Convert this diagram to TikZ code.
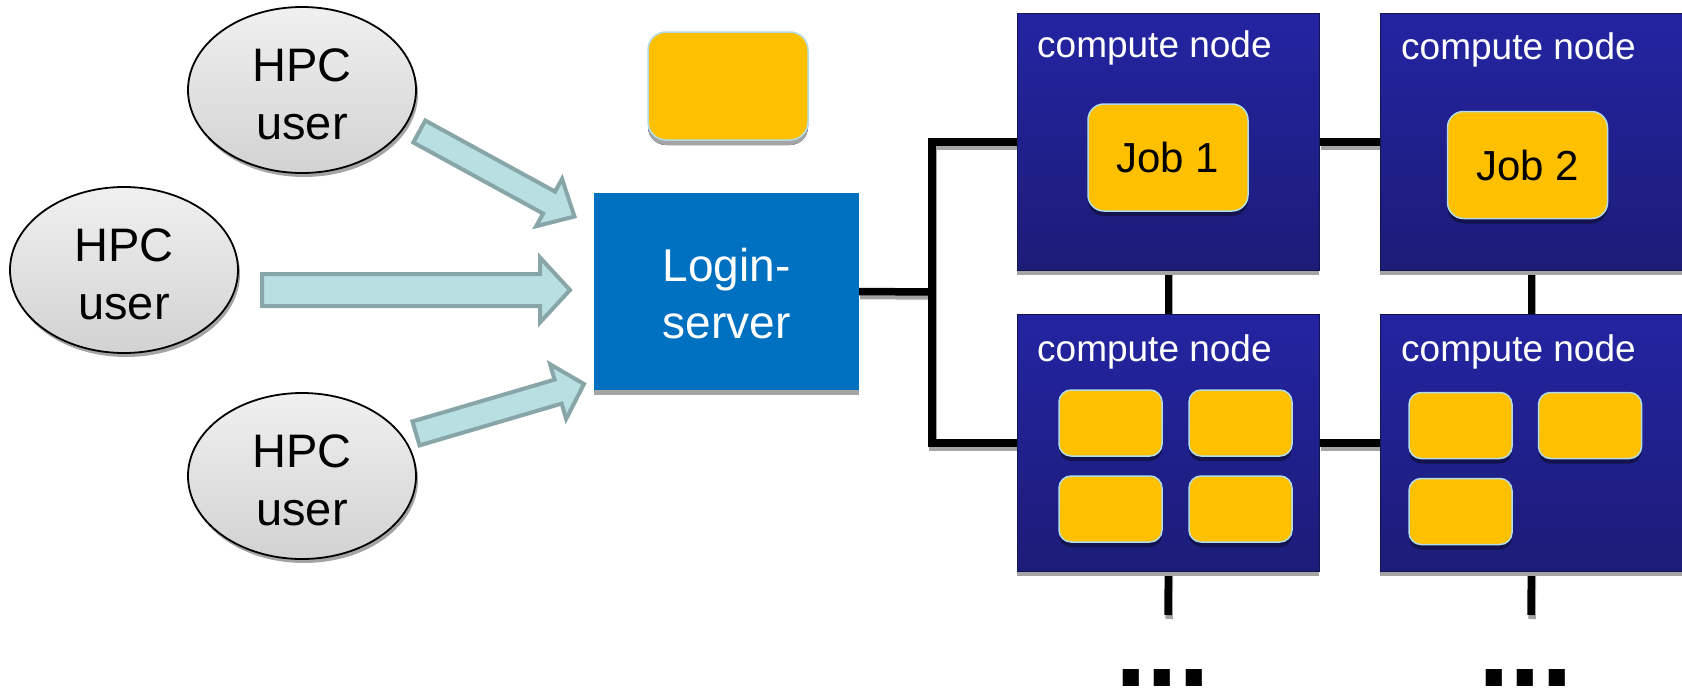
\documentclass[tikz,border=0pt]{standalone}
\usepackage{fontspec}
\setmainfont{Liberation Sans}
\usetikzlibrary{shapes.geometric,shadows,calc}
\pgfdeclarelayer{bg}
\pgfsetlayers{bg,main}
\definecolor{ellTop}{HTML}{F0F0F0}
\definecolor{ellBot}{HTML}{D2D2D2}
\definecolor{shadowgray}{HTML}{A4A4A4}
\definecolor{loginblue}{HTML}{0070C0}
\definecolor{cnTop}{HTML}{2424A2}
\definecolor{cnBot}{HTML}{1C1C78}
\definecolor{cnBorder}{HTML}{141450}
\definecolor{jobyellow}{HTML}{FFC000}
\definecolor{jobborder}{HTML}{B2DCE6}
\definecolor{jobshadow}{HTML}{13134F}
\definecolor{arrowfill}{HTML}{B8DFE2}
\definecolor{arrowborder}{HTML}{88A6A8}
\newcommand\blockarrow[5]{%
  \coordinate (bah) at ($(#2)!#5!(#1)$);
  \draw[barrow] ($(#1)!#3!90:(#2)$) -- ($(bah)!#3!-90:(#1)$) -- ($(bah)!#4!-90:(#1)$) -- (#2)
     -- ($(bah)!#4!90:(#1)$) -- ($(bah)!#3!90:(#1)$) -- ($(#1)!#3!-90:(#2)$) -- cycle;
}
\newcommand\linkpaths[1]{%
  \draw[#1] (login.east) -- (busmid);
  \draw[#1] (cn1.west) -| (busmid) |- (cn3.west);
  \draw[#1] (cn1.east) -- (cn2.west);
  \draw[#1] (cn3.east) -- (cn4.west);
  \draw[#1] (cn1.south) -- (cn3.north);
  \draw[#1] (cn2.south) -- (cn4.north);
  \draw[#1] (cn3.south) -- (end3);
  \draw[#1] (cn4.south) -- (end4);
}
\newcommand\firstline[1]{\rule{0pt}{#1}}
\begin{document}
\begin{tikzpicture}[x=1pt,y=-1pt,
  user/.style={ellipse, draw=black, line width=1.8pt, top color=ellTop, bottom color=ellBot,
    minimum width=228pt, minimum height=166pt, inner sep=0pt, align=center,
    font=\fontsize{47pt}{58pt}\selectfont,
    general shadow={fill=shadowgray, shadow xshift=2pt, shadow yshift=-4pt}},
  login/.style={rectangle, fill=loginblue, text=white, minimum width=265pt, minimum height=197pt,
    inner sep=0pt, align=center, font=\fontsize{46pt}{57pt}\selectfont,
    general shadow={fill=shadowgray, shadow yshift=-5pt}},
  cnode/.style={rectangle, anchor=north west, draw=cnBorder, line width=0.8pt,
    top color=cnTop, bottom color=cnBot, minimum width=302pt, minimum height=257pt, inner sep=0pt,
    general shadow={fill=shadowgray, shadow yshift=-5pt}},
  cntext/.style={anchor=base west, inner sep=0pt, text=white, font=\fontsize{37pt}{44pt}\selectfont},
  jobbox/.style={rectangle, rounded corners=16pt, fill=jobyellow, draw=jobborder, line width=1.5pt,
    inner sep=0pt, font=\fontsize{42pt}{48pt}\selectfont,
    general shadow={fill=jobshadow, shadow yshift=-5pt}},
  bigjob/.style={jobbox, minimum width=160pt, minimum height=107pt},
  smalljob/.style={jobbox, rounded corners=12pt, minimum width=103pt, minimum height=66pt},
  barrow/.style={draw=arrowborder, fill=arrowfill, line width=4pt, line join=miter},
  link/.style={draw=black, line width=7.5pt, line join=miter},
  linkshadow/.style={draw=shadowgray, line width=7.5pt, line join=miter},
  dots/.style={anchor=base west, inner sep=0pt, font=\bfseries\fontsize{114pt}{114pt}\selectfont}
]
\useasboundingbox (0,0) rectangle (1682,688);

% users
\node[user] (u1) at (302,90) {\firstline{41pt}HPC\\user};
\node[user] (u2) at (124,270) {\firstline{41pt}HPC\\user};
\node[user] (u3) at (302,476) {\firstline{41pt}HPC\\user};

% idle job and login server
\node[jobbox, rounded corners=18pt, minimum width=160pt, minimum height=108pt,
  general shadow={fill=shadowgray, shadow yshift=-5pt}] (idle) at (728,86) {};
\node[login] (login) at (726.5,291.5) {\firstline{38pt}Login-\\server};

% block arrows
\coordinate (a1s) at (419.3,131.5); \coordinate (a1e) at (574.5,216.5);
\coordinate (a2s) at (262,290);     \coordinate (a2e) at (570,290);
\coordinate (a3s) at (416,433.4);   \coordinate (a3e) at (584,384);
\blockarrow{a1s}{a1e}{12.5pt}{27pt}{29pt}
\blockarrow{a2s}{a2e}{16pt}{32.5pt}{30pt}
\blockarrow{a3s}{a3e}{12.5pt}{28.5pt}{27pt}

% compute nodes
\node[cnode] (cn1) at (1017,13) {};
\node[cnode] (cn2) at (1380,13) {};
\node[cnode] (cn3) at (1017,314) {};
\node[cnode] (cn4) at (1380,314) {};
\node[cntext] (cn1t) at (1037,57) {compute node};
\node[cntext] (cn2t) at (1401,59) {compute node};
\node[cntext] (cn3t) at (1037,361) {compute node};
\node[cntext] (cn4t) at (1401,361) {compute node};

% jobs
\node[bigjob] (job1) at (1168,157.5) {Job 1};
\node[bigjob] (job2) at (1527.5,165) {Job 2};
\node[smalljob] (j3a) at (1110.5,423) {};
\node[smalljob] (j3b) at (1240.5,423) {};
\node[smalljob] (j3c) at (1110.5,509) {};
\node[smalljob] (j3d) at (1240.5,509) {};
\node[smalljob] (j4a) at (1460.5,425.5) {};
\node[smalljob] (j4b) at (1590,425.5) {};
\node[smalljob] (j4c) at (1460.5,511.5) {};

% network links
\coordinate (busmid) at (932,292);
\coordinate (end3) at (1168,615);
\coordinate (end4) at (1531,615);
\begin{pgfonlayer}{bg}
  \begin{scope}[transform canvas={xshift=1pt,yshift=-4pt}]
    \linkpaths{linkshadow}
  \end{scope}
  \linkpaths{link}
\end{pgfonlayer}

% continuation dots
\node[dots] (dots3) at (1115,686) {...};
\node[dots] (dots4) at (1478,686) {...};
\end{tikzpicture}
\end{document}
